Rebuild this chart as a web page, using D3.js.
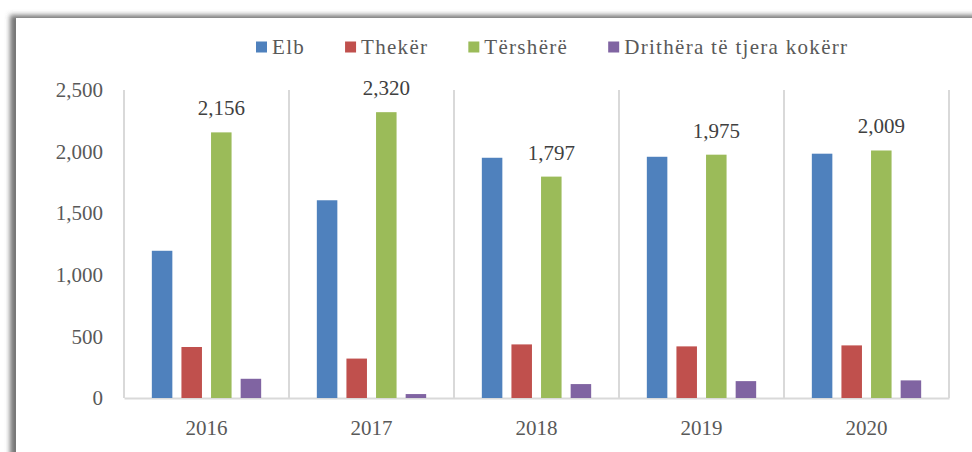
<!DOCTYPE html>
<html>
<head>
<meta charset="utf-8">
<script src="https://cdn.jsdelivr.net/npm/d3@7"></script>
<style>
  body { margin: 0; background: #fff; }
  text { font-family: "Liberation Serif", "DejaVu Serif", serif; }
</style>
</head>
<body>
<svg id="chart" width="972" height="452"></svg>
<script>
// chart data
const years = ["2016", "2017", "2018", "2019", "2020"];
const seriesNames = ["Elb", "Thekër", "Tërshërë", "Drithëra të tjera kokërr"];
const elb = [1195, 1605, 1950, 1958, 1983];
const theker = [414, 320, 435, 419, 427];
const tershere = [2156, 2320, 1797, 1975, 2009];
const drithera = [156, 32, 113, 137, 143];
const yTicks = [0, 500, 1000, 1500, 2000, 2500];
const colors = ["#4F81BD", "#C0504D", "#9BBB59", "#8064A2"];

const seriesValues = [elb, theker, tershere, drithera];
const labelledSeries = 2; // only Tërshërë gets data labels

const width = 972, height = 452;
const margin = {top: 90, right: 23, bottom: 52, left: 124};

const svg = d3.select("#chart");

// frame with shadow on the top/left
const defs = svg.append("defs");
const f = defs.append("filter").attr("id", "shadow")
    .attr("x", "-5%").attr("y", "-10%").attr("width", "110%").attr("height", "120%");
f.append("feDropShadow")
    .attr("dx", -6).attr("dy", -3)
    .attr("stdDeviation", 2.5)
    .attr("flood-color", "#555")
    .attr("flood-opacity", 0.8);

svg.append("rect")
    .attr("x", 16).attr("y", 18)
    .attr("width", 1000).attr("height", 500)
    .attr("fill", "#fff")
    .attr("filter", "url(#shadow)");

// scales
const x0 = d3.scaleBand()
    .domain(years)
    .range([margin.left, width - margin.right])
    .padding(0);

const x1 = d3.scaleBand()
    .domain(seriesNames)
    .range([0, x0.bandwidth()])
    .paddingInner(0.307)
    .paddingOuter(0.94);

const y = d3.scaleLinear()
    .domain([0, 2500])
    .range([height - margin.bottom - 2, margin.top]);

// vertical separators between categories
const bounds = years.map(d => x0(d)).concat([x0.range()[1]]);
svg.append("g")
    .selectAll("line")
    .data(bounds)
    .join("line")
    .attr("x1", d => d).attr("x2", d => d)
    .attr("y1", y(2500)).attr("y2", y(0))
    .attr("stroke", "#d9d9d9")
    .attr("stroke-width", 2);

// x axis
const xAxis = svg.append("g")
    .attr("transform", `translate(0,${y(0)})`)
    .call(d3.axisBottom(x0).tickSize(0).tickPadding(22));
xAxis.select(".domain").attr("stroke", "#d9d9d9").attr("stroke-width", 2);
xAxis.selectAll("text")
    .attr("fill", "#595959")
    .style("font-size", "21px")
    .style("font-family", "Liberation Serif, serif");

// y axis
const yAxis = svg.append("g")
    .attr("transform", `translate(${margin.left - 21},0)`)
    .call(d3.axisLeft(y).tickValues(yTicks).tickSize(0).tickPadding(0).tickFormat(d3.format(",")));
yAxis.select(".domain").remove();
yAxis.selectAll("text")
    .attr("fill", "#595959")
    .style("font-size", "21px")
    .style("font-family", "Liberation Serif, serif");

// bars
const groups = svg.append("g")
    .selectAll("g")
    .data(years)
    .join("g")
    .attr("transform", d => `translate(${x0(d)},0)`);

groups.selectAll("rect")
    .data((d, i) => seriesNames.map((s, j) => ({s, j, v: seriesValues[j][i]})))
    .join("rect")
    .attr("x", d => x1(d.s))
    .attr("y", d => y(d.v))
    .attr("width", x1.bandwidth())
    .attr("height", d => y(0) - y(d.v))
    .attr("fill", d => colors[d.j]);

// data labels above the green bars
groups.append("text")
    .attr("x", x1(seriesNames[labelledSeries]) + x1.bandwidth() / 2)
    .attr("y", (d, i) => y(seriesValues[labelledSeries][i]) - 17)
    .attr("text-anchor", "middle")
    .attr("fill", "#404040")
    .style("font-size", "21px")
    .text((d, i) => d3.format(",")(seriesValues[labelledSeries][i]));

// legend
const legend = svg.append("g").attr("transform", "translate(256,47)");
let lx = 0;
seriesNames.forEach((name, i) => {
    const item = legend.append("g").attr("transform", `translate(${lx},0)`);
    item.append("rect")
        .attr("x", 0).attr("y", -5.5)
        .attr("width", 11).attr("height", 11)
        .attr("fill", colors[i]);
    const t = item.append("text")
        .attr("x", 16).attr("y", 7)
        .attr("fill", "#595959")
        .style("font-size", "21px")
        .style("letter-spacing", "1.3px")
        .text(name);
    lx += 16 + t.node().getComputedTextLength() + 40;
});
</script>
</body>
</html>
